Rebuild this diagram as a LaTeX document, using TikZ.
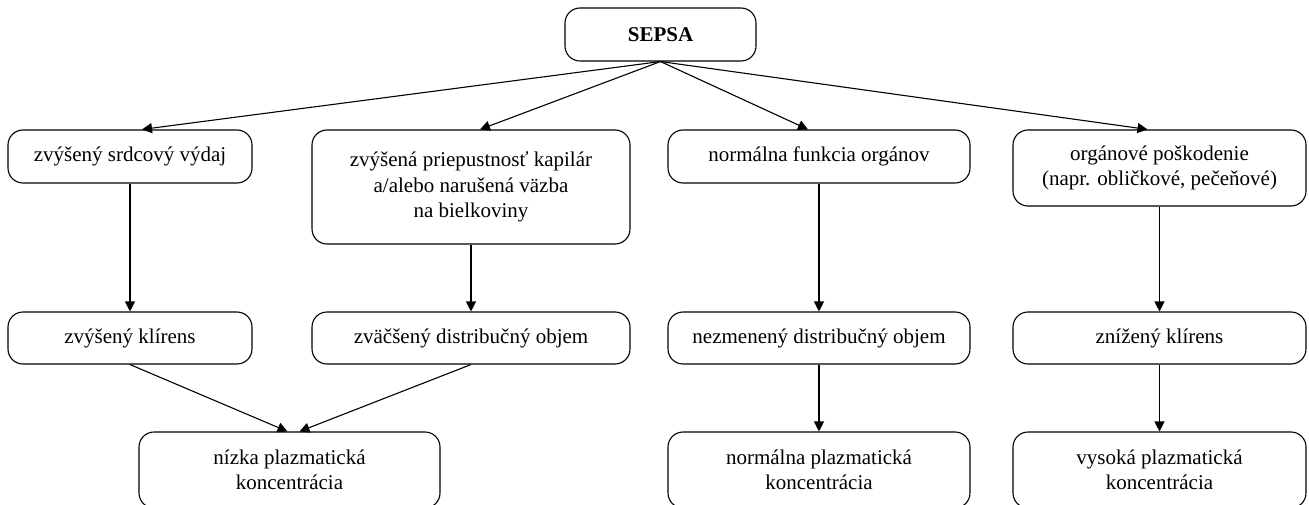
\documentclass[tikz,border=0pt]{standalone}
\usepackage{fontspec}
\setmainfont{Liberation Serif}
\usetikzlibrary{arrows.meta}
\tikzset{>={Triangle[length=10pt,width=10pt]},every node/.style={font=\fontsize{21}{25.5}\selectfont},
 box/.style={draw,line width=1.1pt,rounded corners=15pt,align=center,inner sep=0pt,minimum height=53pt},
 flow/.style={line width=1.1pt,->}}

\begin{document}
\begin{tikzpicture}[x=1pt,y=-1pt]
\useasboundingbox (0,0) rectangle (1309,505);
% top
\node[box,minimum width=191pt] (sepsa) at (660.5,34.5) {\textbf{SEPSA}};
% first row
\node[box,minimum width=244pt] (a1) at (130,156.5) {zvýšený srdcový výdaj};
\node[box,minimum width=318pt,minimum height=114pt] (a2) at (471,187) {zvýšená priepustnosť kapilár\\a/alebo narušená väzba\\na bielkoviny};
\node[box,minimum width=302pt] (a3) at (819,156.5) {normálna funkcia orgánov};
\node[box,minimum width=293pt,minimum height=76pt] (a4) at (1159.5,168) {orgánové poškodenie\\(napr. obličkové, pečeňové)};
% second row
\node[box,minimum width=244pt,minimum height=52pt] (b1) at (130,338) {zvýšený klírens};
\node[box,minimum width=318pt,minimum height=52pt] (b2) at (471,338) {zväčšený distribučný objem};
\node[box,minimum width=302pt,minimum height=52pt] (b3) at (819,338) {nezmenený distribučný objem};
\node[box,minimum width=293pt,minimum height=52pt] (b4) at (1159.5,338) {znížený klírens};
% third row
\node[box,minimum width=301pt,minimum height=76pt] (c1) at (289.5,470) {nízka plazmatická\\koncentrácia};
\node[box,minimum width=302pt,minimum height=76pt] (c3) at (819,470) {normálna plazmatická\\koncentrácia};
\node[box,minimum width=293pt,minimum height=76pt] (c4) at (1159.5,470) {vysoká plazmatická\\koncentrácia};
% arrows
\draw[flow] (sepsa.south)--([xshift=12pt]a1.north);\draw[flow] (sepsa.south)--([xshift=9pt]a2.north);
\draw[flow] (sepsa.south)--([xshift=-11pt]a3.north);\draw[flow] (sepsa.south)--([xshift=-12pt]a4.north);
\draw[flow] (a1)--(b1);\draw[flow] (a2)--(b2);\draw[flow] (a3)--(b3);\draw[flow] (a4)--(b4);
\draw[flow] (b1.south)--([xshift=-2pt]c1.north);\draw[flow] (b2.south)--([xshift=10pt]c1.north);
\draw[flow] (b3)--(c3);\draw[flow] (b4)--(c4);
\end{tikzpicture}
\end{document}
